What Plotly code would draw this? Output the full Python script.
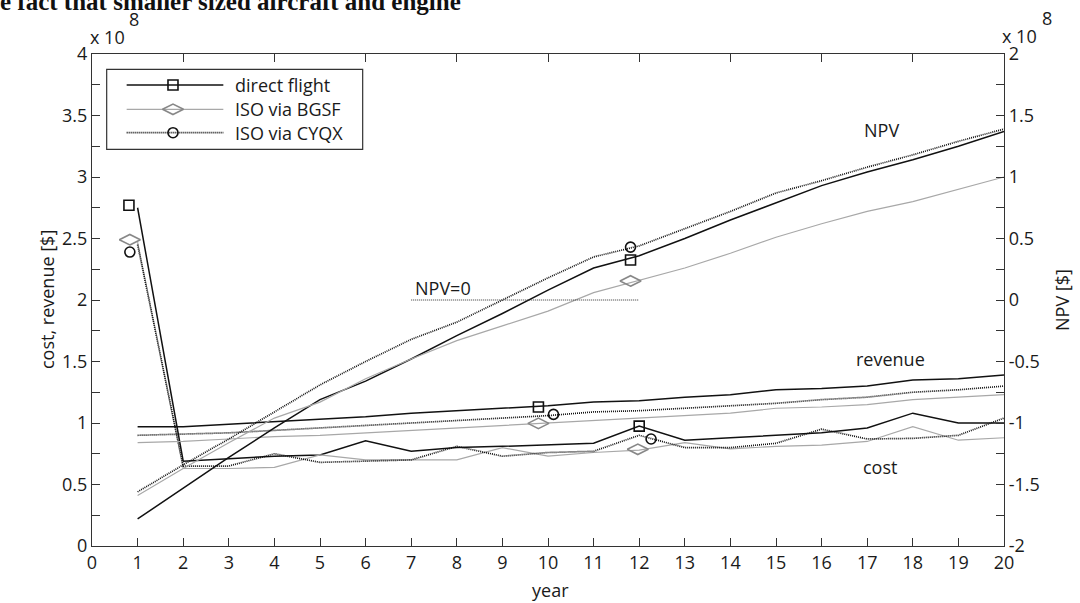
import plotly.graph_objects as go

# ---------------- data (values in units of 1e8 $) ----------------
years = list(range(1, 21))

cost_direct = [2.75, 0.69, 0.71, 0.73, 0.74, 0.855, 0.77, 0.80, 0.81, 0.82,
               0.835, 0.975, 0.86, 0.88, 0.90, 0.92, 0.96, 1.08, 1.00, 1.00]
cost_bgsf = [2.47, 0.63, 0.63, 0.64, 0.74, 0.70, 0.70, 0.70, 0.80, 0.73,
             0.76, 0.78, 0.84, 0.79, 0.81, 0.82, 0.85, 0.97, 0.86, 0.88]
cost_cyqx = [2.45, 0.65, 0.65, 0.75, 0.68, 0.69, 0.70, 0.81, 0.73, 0.76,
             0.77, 0.90, 0.80, 0.80, 0.835, 0.95, 0.87, 0.875, 0.90, 1.04]

rev_direct = [0.97, 0.97, 0.99, 1.01, 1.03, 1.05, 1.08, 1.10, 1.12, 1.14,
              1.17, 1.18, 1.21, 1.23, 1.27, 1.28, 1.30, 1.35, 1.36, 1.39]
rev_bgsf = [0.84, 0.85, 0.87, 0.89, 0.90, 0.92, 0.94, 0.96, 0.98, 1.00,
            1.02, 1.04, 1.06, 1.08, 1.12, 1.13, 1.15, 1.19, 1.21, 1.23]
rev_cyqx = [0.90, 0.91, 0.92, 0.94, 0.96, 0.98, 1.00, 1.02, 1.04, 1.06,
            1.09, 1.10, 1.12, 1.14, 1.16, 1.19, 1.21, 1.25, 1.27, 1.30]

npv_direct = [-1.78, -1.53, -1.28, -1.04, -0.81, -0.66, -0.48, -0.29, -0.11, 0.08,
              0.26, 0.36, 0.50, 0.65, 0.79, 0.93, 1.04, 1.14, 1.25, 1.37]
npv_bgsf = [-1.59, -1.37, -1.16, -0.96, -0.83, -0.64, -0.48, -0.33, -0.21, -0.09,
            0.06, 0.16, 0.26, 0.38, 0.51, 0.62, 0.72, 0.80, 0.90, 1.00]
npv_cyqx = [-1.56, -1.34, -1.13, -0.91, -0.69, -0.50, -0.32, -0.18, 0.00, 0.18,
            0.35, 0.44, 0.58, 0.72, 0.87, 0.97, 1.08, 1.18, 1.29, 1.39]

# label markers placed beside the curves (left-axis units)
mk_direct_x = [0.81, 9.79, 12.0]
mk_direct_y = [2.77, 1.13, 0.975]
mk_bgsf_x = [0.83, 9.79, 11.97]
mk_bgsf_y = [2.49, 0.997, 0.786]
mk_cyqx_x = [0.83, 10.12, 12.26]
mk_cyqx_y = [2.39, 1.07, 0.87]
# markers on the NPV curves (right-axis units)
mk_npv_x = [11.81, 11.81, 11.81]
mk_npv_y = [0.325, 0.155, 0.43]

npv_zero_x = [7.0, 12.0]
npv_zero_y = [0.0, 0.0]

series_names = ["direct flight", "ISO via BGSF", "ISO via CYQX"]
x_ticks = list(range(0, 21))
left_ticks = [0, 0.5, 1, 1.5, 2, 2.5, 3, 3.5, 4]
left_labels = ["0", "0.5", "1", "1.5", "2", "2.5", "3", "3.5", "4"]
right_ticks = [-2, -1.5, -1, -0.5, 0, 0.5, 1, 1.5, 2]
right_labels = ["-2", "-1.5", "-1", "-0.5", "0", "0.5", "1", "1.5", "2"]

# ---------------- styles ----------------
FONT = "Open Sans"
BLK = "#111111"
GRY = "#a8a8a8"
DOT = "#111111"
st_direct = dict(color=BLK, width=1.5)
st_bgsf = dict(color=GRY, width=1.2)
st_cyqx = dict(color=DOT, width=1.7, dash="1px,1px")

fig = go.Figure()

for ys, st in [(cost_direct, st_direct), (cost_bgsf, st_bgsf), (cost_cyqx, st_cyqx),
               (rev_direct, st_direct), (rev_bgsf, st_bgsf), (rev_cyqx, st_cyqx)]:
    fig.add_trace(go.Scatter(x=years, y=ys, mode="lines", line=st,
                             showlegend=False, hoverinfo="skip"))

for ys, st in [(npv_direct, st_direct), (npv_bgsf, st_bgsf), (npv_cyqx, st_cyqx)]:
    fig.add_trace(go.Scatter(x=years, y=ys, mode="lines", line=st,
                             xaxis="x2", yaxis="y2",
                             showlegend=False, hoverinfo="skip"))

fig.add_trace(go.Scatter(x=npv_zero_x, y=npv_zero_y, mode="lines",
                         line=dict(color="#333333", width=1, dash="1px,1px"),
                         xaxis="x2", yaxis="y2", showlegend=False, hoverinfo="skip"))

m_sq = dict(symbol="square-open", size=10, color=BLK, line=dict(width=1.6, color=BLK))
m_di = dict(symbol="diamond-wide-open", size=15, color="#888888", line=dict(width=1.6, color="#888888"))
m_ci = dict(symbol="circle-open", size=10, color=BLK, line=dict(width=1.6, color=BLK))

fig.add_trace(go.Scatter(x=mk_direct_x, y=mk_direct_y, mode="markers", marker=m_sq,
                         showlegend=False, hoverinfo="skip"))
fig.add_trace(go.Scatter(x=mk_bgsf_x, y=mk_bgsf_y, mode="markers", marker=m_di,
                         showlegend=False, hoverinfo="skip"))
fig.add_trace(go.Scatter(x=mk_cyqx_x, y=mk_cyqx_y, mode="markers", marker=m_ci,
                         showlegend=False, hoverinfo="skip"))
fig.add_trace(go.Scatter(x=[mk_npv_x[0]], y=[mk_npv_y[0]], mode="markers", marker=m_sq,
                         xaxis="x2", yaxis="y2", showlegend=False, hoverinfo="skip"))
fig.add_trace(go.Scatter(x=[mk_npv_x[1]], y=[mk_npv_y[1]], mode="markers", marker=m_di,
                         xaxis="x2", yaxis="y2", showlegend=False, hoverinfo="skip"))
fig.add_trace(go.Scatter(x=[mk_npv_x[2]], y=[mk_npv_y[2]], mode="markers", marker=m_ci,
                         xaxis="x2", yaxis="y2", showlegend=False, hoverinfo="skip"))

# ---------------- custom legend (overlay axes in [0,1]) ----------------
leg_rows = [0.937, 0.8876, 0.840]
leg_x0, leg_x1, leg_xm, leg_xt = 0.038, 0.144, 0.0888, 0.1546
for row, st, mk in zip(leg_rows, [st_direct, st_bgsf, st_cyqx], [m_sq, m_di, m_ci]):
    fig.add_trace(go.Scatter(x=[leg_x0, leg_x1], y=[row, row], mode="lines", line=st,
                             xaxis="x3", yaxis="y3", showlegend=False, hoverinfo="skip"))
    fig.add_trace(go.Scatter(x=[leg_xm], y=[row], mode="markers", marker=mk,
                             xaxis="x3", yaxis="y3", showlegend=False, hoverinfo="skip"))

shapes = [dict(type="rect", xref="paper", yref="paper", x0=0.0161, x1=0.2968,
               y0=0.8063, y1=0.9689, line=dict(color="#333333", width=1.2),
               fillcolor="white", layer="below")]

ann = []
tf = dict(family=FONT, size=18, color="#1a1a1a")
for row, name in zip(leg_rows, series_names):
    ann.append(dict(xref="paper", yref="paper", x=leg_xt, y=row, text=name,
                    showarrow=False, xanchor="left", yanchor="middle", font=tf))

# curve labels
ann += [
    dict(x=17.32, y=3.38, xref="x", yref="y", text="NPV", showarrow=False, font=tf),
    dict(x=17.52, y=1.52, xref="x", yref="y", text="revenue", showarrow=False, font=tf),
    dict(x=17.28, y=0.64, xref="x", yref="y", text="cost", showarrow=False, font=tf),
    dict(x=7.05, y=2.10, xref="x", yref="y", text="NPV=0", showarrow=False,
         xanchor="left", font=tf),
]

# axis titles and exponent labels
def px2paper(px, py):
    return (px - 92) / 912.0, (546 - py) / 492.0

for (px, py, txt, ang, xa) in [(47, 300, "cost, revenue [$]", -90, "center"),
                               (1062, 300, "NPV [$]", -90, "center"),
                               (550, 590, "year", 0, "center"),
                               (127, 37, "x 10", 0, "right"), (127, 19, "8", 0, "left"),
                               (1039, 36, "x 10", 0, "right"), (1040, 18, "8", 0, "left")]:
    x, y = px2paper(px, py)
    ann.append(dict(xref="paper", yref="paper", x=x, y=y, text=txt, textangle=ang,
                    showarrow=False, xanchor=xa, yanchor="middle", font=tf))

# clipped line of document text above the figure
x, y = px2paper(-2, 1)
ann.append(dict(xref="paper", yref="paper", x=x, y=y,
                text="<b>e fact that smaller sized aircraft and engine</b>",
                showarrow=False, xanchor="left", yanchor="middle",
                font=dict(family="Liberation Serif", size=25, color="#111111")))

axis_common = dict(showgrid=False, zeroline=False, showline=True, linecolor="#333333",
                   linewidth=1.3, ticks="inside", ticklen=8, tickcolor="#333333",
                   tickwidth=1, tickfont=dict(family=FONT, size=18, color="#1a1a1a"))

fig.update_layout(
    width=1080, height=603,
    margin=dict(l=92, r=76, t=54, b=57, autoexpand=False),
    paper_bgcolor="white", plot_bgcolor="white",
    showlegend=False,
    xaxis=dict(range=[0, 20], tickmode="array", tickvals=x_ticks,
               ticktext=[str(t) for t in x_ticks], anchor="y", **axis_common),
    xaxis2=dict(range=[0, 20], overlaying="x", side="top", anchor="y2",
                tickmode="linear", tick0=0, dtick=2, showticklabels=False,
                **axis_common),
    yaxis=dict(range=[0, 4], tickmode="array", tickvals=left_ticks, ticktext=left_labels,
               anchor="x", minor=dict(dtick=0.25, ticks="inside", ticklen=8,
                                      tickcolor="#333333", showgrid=False),
               **axis_common),
    yaxis2=dict(range=[-2, 2], tickmode="array", tickvals=right_ticks,
                ticktext=right_labels, overlaying="y", side="right", anchor="x2",
                minor=dict(dtick=0.25, ticks="inside", ticklen=8,
                           tickcolor="#333333", showgrid=False),
                **axis_common),
    xaxis3=dict(range=[0, 1], overlaying="x", visible=False, anchor="y3"),
    yaxis3=dict(range=[0, 1], overlaying="y", visible=False, anchor="x3"),
    shapes=shapes,
    annotations=ann,
)

fig.write_html("out.html", config={"displayModeBar": False},
               post_script="document.body.style.margin='0px';")
